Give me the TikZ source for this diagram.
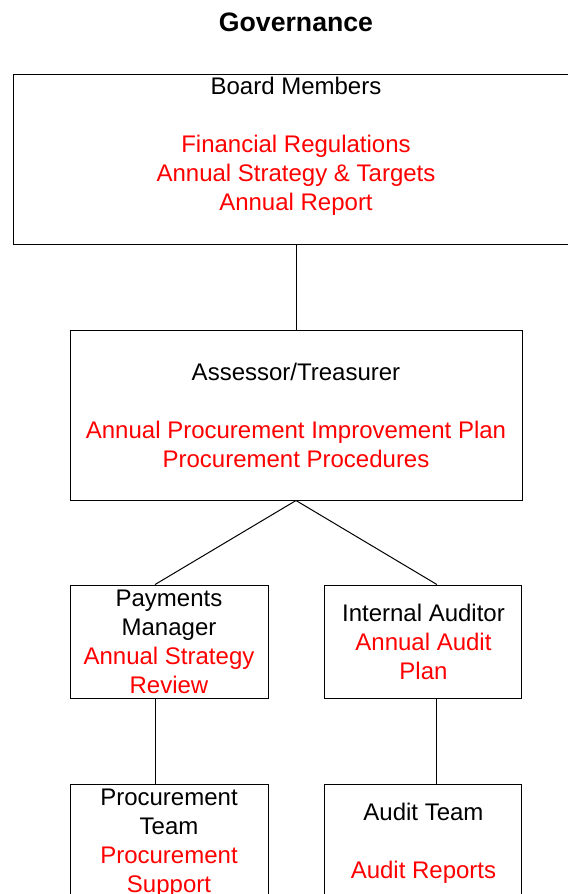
\documentclass[tikz,border=0pt]{standalone}
\usepackage{fontspec}
\setmainfont{Liberation Sans}
\usepackage{xcolor}
\usetikzlibrary{positioning}

\newcommand{\duty}[1]{\textcolor{red}{#1}}

\begin{document}
\begin{tikzpicture}[
  role/.style={draw, line width=0.75pt, align=center, inner sep=0pt,
    font=\fontsize{18}{21.75}\selectfont},
  bigrole/.style={role, minimum width=339pt, minimum height=127.5pt},
  smallrole/.style={role, minimum width=148.5pt, minimum height=84.75pt},
  link/.style={line width=0.75pt}
]
\useasboundingbox (0,0) rectangle (426pt,-670.5pt);

\node (title) at (222pt,-16.5pt) {\fontsize{20}{24}\selectfont\bfseries Governance};
\node (board) [role, minimum width=424.5pt, minimum height=127.5pt, text depth=23pt,
  below of=title, node distance=102.75pt]
  {Board Members\\[21.75pt]
   \duty{Financial Regulations}\\
   \duty{Annual Strategy \& Targets}\\
   \duty{Annual Report}};
\node (assessor) [bigrole, below of=board, node distance=192pt]
  {Assessor/Treasurer\\[21.75pt]
   \duty{Annual Procurement Improvement Plan}\\
   \duty{Procurement Procedures}};
\node (payments) [smallrole, below of=assessor, node distance=169.9pt, xshift=-95.25pt]
  {Payments\\Manager\\\duty{Annual Strategy}\\\duty{Review}};
\node (auditor) [smallrole, minimum width=147.75pt, below of=assessor, node distance=169.9pt, xshift=95.6pt]
  {Internal Auditor\\\duty{Annual Audit}\\\duty{Plan}};
\node (procteam) [smallrole, minimum height=89.25pt, below of=payments, node distance=151.5pt]
  {Procurement\\Team\\\duty{Procurement}\\\duty{Support}};
\node (auditteam) [smallrole, minimum width=147.75pt, minimum height=89.25pt, below of=auditor, node distance=151.5pt]
  {Audit Team\\[21.75pt]\duty{Audit Reports}};

\draw [link] (board) -- (assessor);
\draw [link] (assessor.south) -- ([xshift=-10.5pt]payments.north);
\draw [link] (assessor.south) -- ([xshift=10.1pt]auditor.north);
\draw [link] ([xshift=-10.5pt]payments.south) -- ([xshift=-10.5pt]procteam.north);
\draw [link] ([xshift=10.1pt]auditor.south) -- ([xshift=10.1pt]auditteam.north);
\end{tikzpicture}
\end{document}
